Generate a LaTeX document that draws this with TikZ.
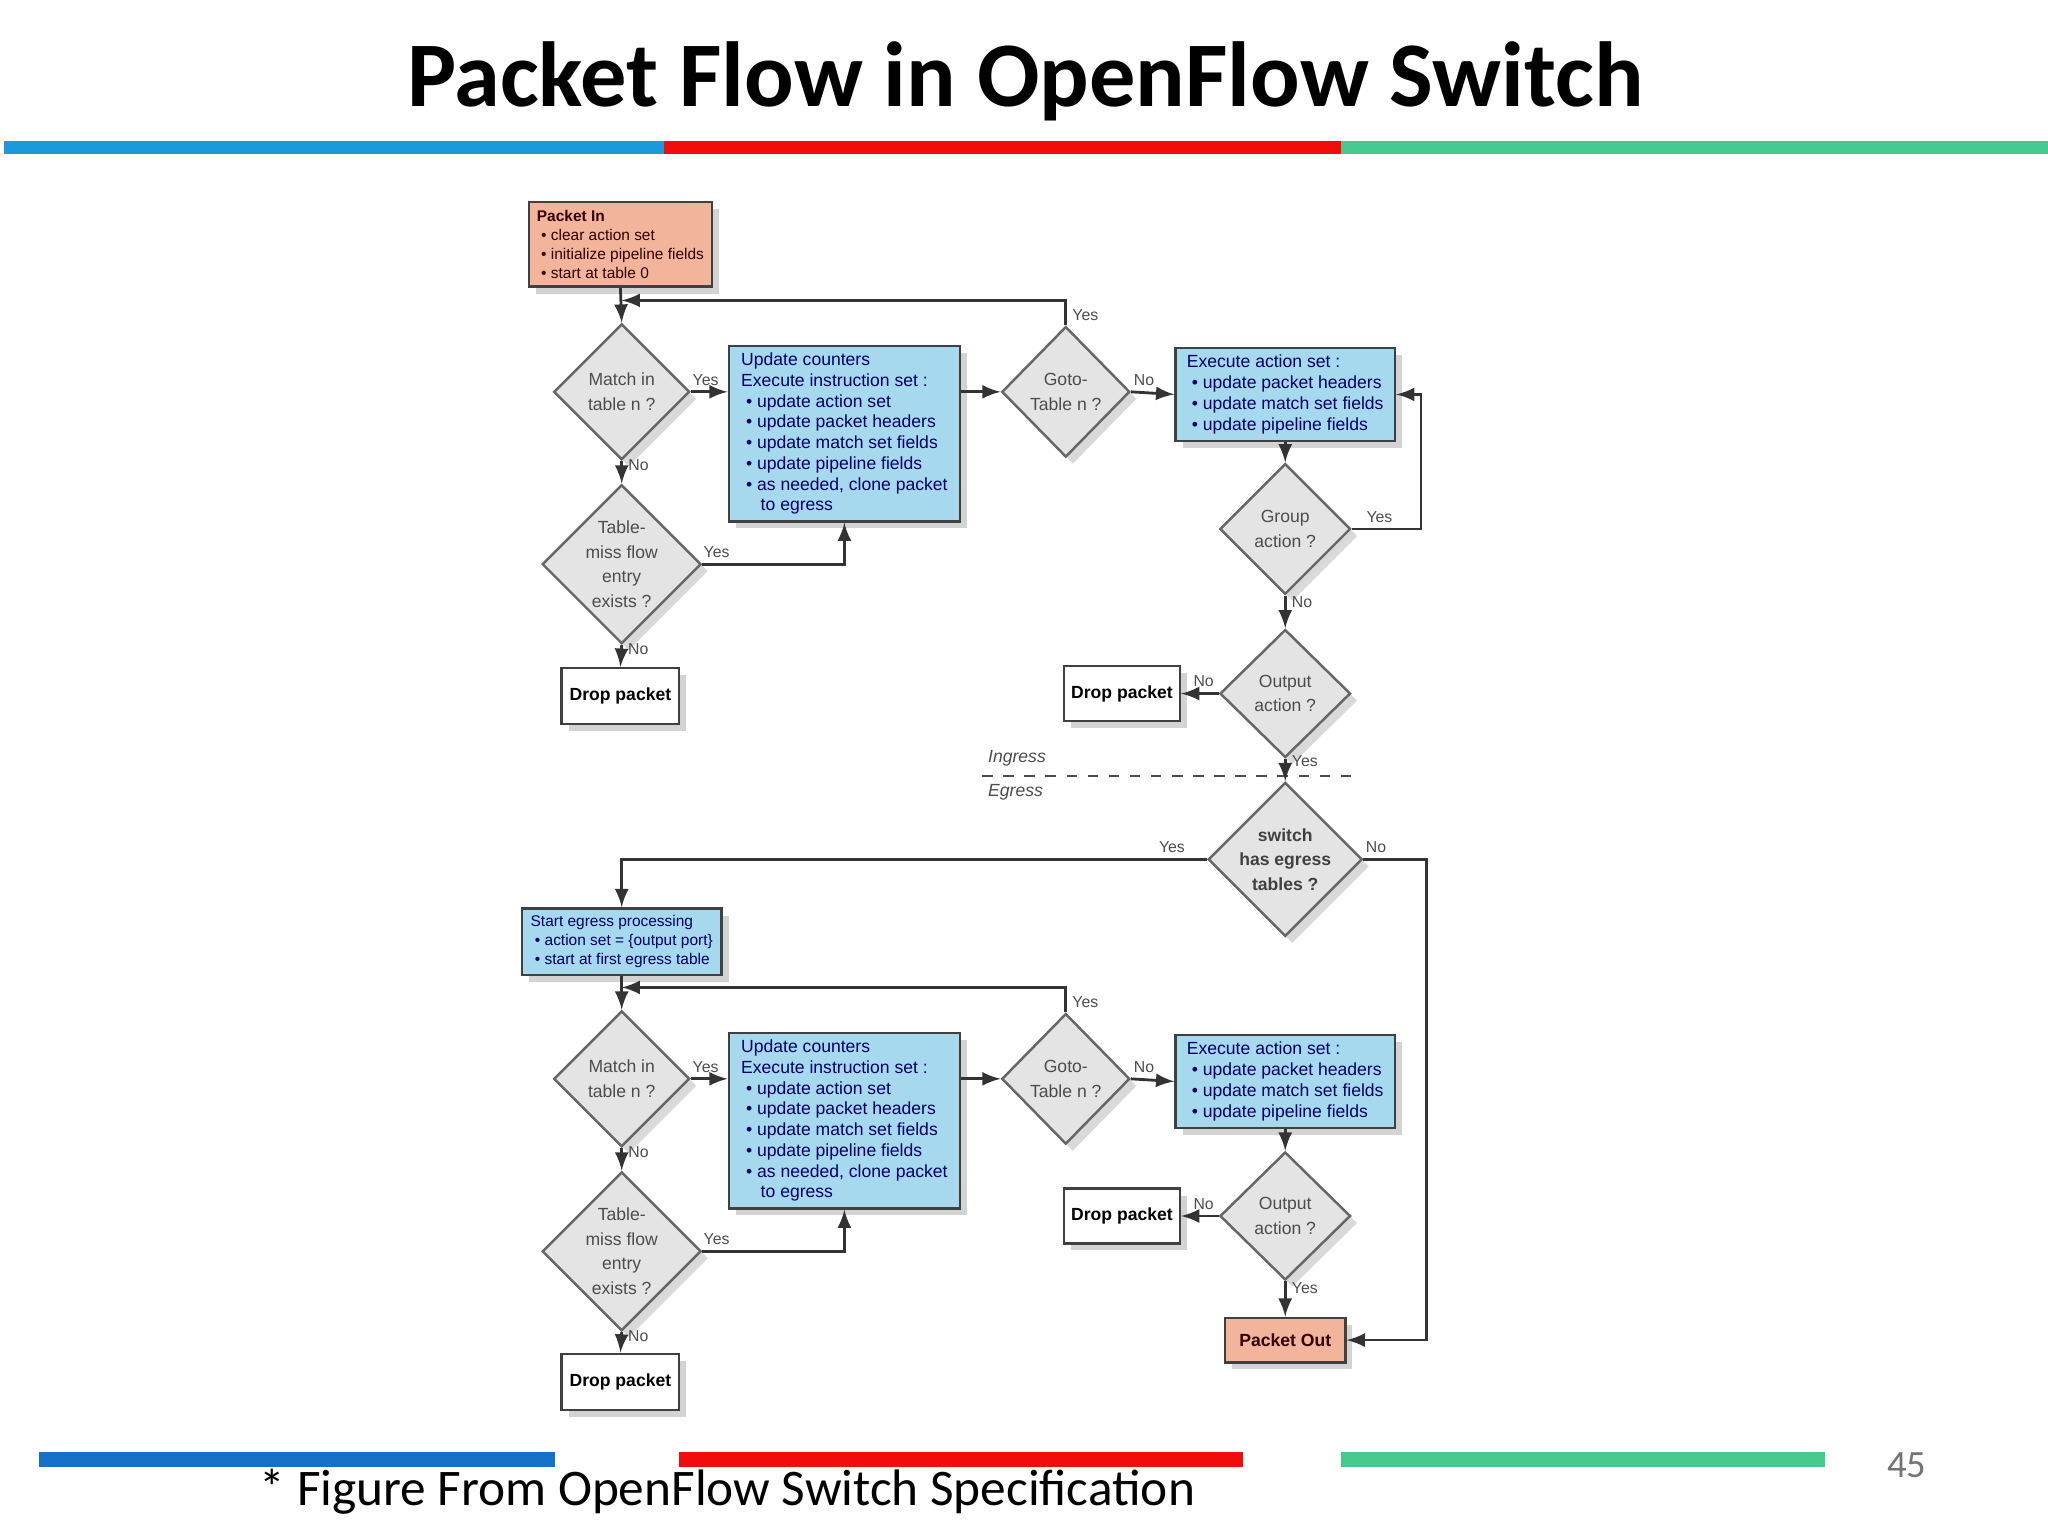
\documentclass[tikz,border=0pt]{standalone}
\usepackage{fontspec}
\setmainfont{Liberation Sans}
\newfontfamily\titlefont{Carlito}
\usetikzlibrary{shapes.geometric,positioning,shadows}
\definecolor{pktorange}{HTML}{F2B49B}
\definecolor{procblue}{HTML}{A6D8EE}
\definecolor{decgray}{HTML}{E4E4E4}
\definecolor{barblue}{HTML}{1A9ADB}
\definecolor{barred}{HTML}{F20D0D}
\definecolor{bargreen}{HTML}{45C98F}
\definecolor{barblue2}{HTML}{1570C8}
\def\px{0.01306cm}
\begin{document}
\begin{tikzpicture}[x=0.01306cm,y=-0.01306cm]
\tikzset{
  box/.style={draw=black!75,line width=0.7pt,align=left,inner sep=2pt,
    font=\fontsize{5}{5.9}\selectfont,
    drop shadow={opacity=0.35,shadow xshift=2pt,shadow yshift=-2pt}},
  smallbox/.style={box,font=\fontsize{4.4}{5.4}\selectfont},
  dec/.style={draw=black!60,line width=0.7pt,diamond,fill=decgray,aspect=1,inner sep=0pt,
    align=center,font=\fontsize{5}{7}\selectfont\color{black!70},
    drop shadow={opacity=0.3,shadow xshift=2pt,shadow yshift=-2pt}},
  drop/.style={box,fill=white,font=\fontsize{5}{6}\selectfont\bfseries,align=center},
  arr/.style={-latex,line width=0.8pt,black!80},
  lbl/.style={font=\fontsize{4.5}{5}\selectfont,text=black!70,inner sep=1.5pt}
}
\useasboundingbox (0,0) rectangle (1568,1176);

% title and bars
\node (title) at (785,62) {\titlefont\fontsize{26.3}{30}\selectfont\bfseries Packet Flow in OpenFlow Switch};
\fill[barblue] (3,108) rectangle (508,118);
\fill[barred] (508,108) rectangle (1027,118);
\fill[bargreen] (1027,108) rectangle (1568,118);
\fill[barblue2] (30,1112) rectangle (425,1123);
\fill[barred] (520,1112) rectangle (952,1123);
\fill[bargreen] (1027,1112) rectangle (1397,1123);
\node (foot) at (557,1142) {\titlefont\fontsize{14.6}{17}\selectfont * Figure From OpenFlow Switch Specification};
\node (page) at (1460,1122) {\titlefont\fontsize{11}{12}\selectfont\color{black!55}45};

% ingress pipeline
\node (PacketIn) [smallbox,fill=pktorange,text=black!80!red,minimum width=140*\px,minimum height=65*\px] at (475,187)
  {\textbf{Packet In}\\ \ \textbullet~clear action set\\ \ \textbullet~initialize pipeline fields\\ \ \textbullet~start at table 0};
\coordinate (J1) at (476,230);
\node (Match1) [dec,minimum width=104*\px,minimum height=104*\px] at (476,300) {Match in\\table n ?};
\node (Miss1) [dec,minimum width=116*\px,minimum height=112*\px] at (476,432) {Table-\\miss flow\\entry\\exists ?};
\node (Drop1) [drop,minimum width=90*\px,minimum height=43*\px] at (475,533) {Drop packet};
\node (Update1) [box,fill=procblue,text=blue!40!black,minimum width=177*\px,minimum height=129*\px] at (646.5,332)
  {Update counters\\Execute instruction set :\\ \ \textbullet~update action set\\ \ \textbullet~update packet headers\\ \ \textbullet~update match set fields\\ \ \textbullet~update pipeline fields\\ \ \textbullet~as needed, clone packet\\ \ \ \ \ to egress};
\node (Goto1) [dec,minimum width=98*\px,minimum height=100*\px] at (816,300) {Goto-\\Table n ?};
\node (Exec1) [box,fill=procblue,text=blue!40!black,minimum width=168*\px,minimum height=68*\px] at (984,302)
  {Execute action set :\\ \ \textbullet~update packet headers\\ \ \textbullet~update match set fields\\ \ \textbullet~update pipeline fields};
\node (Group) [dec,minimum width=100*\px,minimum height=100*\px] at (984,405) {Group\\action ?};
\coordinate (GroupLoop) at (1088,302);
\node (Output1) [dec,minimum width=100*\px,minimum height=98*\px] at (984,531) {Output\\action ?};
\node (Drop2) [drop,minimum width=88*\px,minimum height=42*\px] at (859,531) {Drop packet};

\draw[arr] (PacketIn.south) -- (Match1.north);
\draw[arr] (Match1.east) -- node[lbl,above,pos=0.4]{Yes} (Match1.east -| Update1.west);
\draw[arr] (Match1.south) -- node[lbl,right,pos=0.2]{No} (Miss1.north);
\draw[arr] (Miss1.east) -| node[lbl,above,pos=0.05]{Yes} (Update1.south);
\draw[arr] (Miss1.south) -- node[lbl,right,pos=0.2]{No} (Drop1.north);
\draw[arr] (Update1.east |- Goto1) -- (Goto1.west);
\draw[arr] (Goto1.north) |- node[lbl,right,pos=0.2]{Yes} (J1);
\draw[arr] (Goto1.east) -- node[lbl,above,pos=0.3]{No} (Exec1.west);
\draw[arr] (Exec1.south) -- (Group.north);
\draw[arr] (Group.east) -| node[lbl,above,pos=0.2]{Yes} (GroupLoop) -- (Exec1.east);
\draw[arr] (Group.south) -- node[lbl,right,pos=0.2]{No} (Output1.north);
\draw[arr] (Output1.west) -- node[lbl,above,pos=0.4]{No} (Drop2.east);

% ingress / egress border
\coordinate (BorderL) at (752,594);
\coordinate (BorderR) at (1035,594);
\draw[dashed,black!70,line width=0.6pt] (BorderL) -- (BorderR);
\node (Ingress) [lbl,font=\fontsize{5}{6}\selectfont\itshape,anchor=south west] at (752,591) {Ingress};
\node (Egress) [lbl,font=\fontsize{5}{6}\selectfont\itshape,anchor=north west] at (752,596) {Egress};

% egress pipeline
\node (Switch) [dec,minimum width=100*\px,minimum height=100*\px,font=\fontsize{5}{7}\selectfont\bfseries\color{black!75}] at (984,658) {switch\\has egress\\tables ?};
\coordinate (SwLoop) at (1092,1026);
\node (StartEg) [smallbox,fill=procblue,text=blue!40!black,minimum width=153*\px,minimum height=49*\px] at (476,721)
  {Start egress processing\\ \ \textbullet~action set = \{output port\}\\ \ \textbullet~start at first egress table};
\coordinate (J2) at (476,756);
\node (Match2) [dec,minimum width=104*\px,minimum height=104*\px] at (476,826) {Match in\\table n ?};
\node (Miss2) [dec,minimum width=116*\px,minimum height=112*\px] at (476,958) {Table-\\miss flow\\entry\\exists ?};
\node (Drop4) [drop,minimum width=90*\px,minimum height=43*\px] at (475,1058) {Drop packet};
\node (Update2) [box,fill=procblue,text=blue!40!black,minimum width=177*\px,minimum height=129*\px] at (646.5,858)
  {Update counters\\Execute instruction set :\\ \ \textbullet~update action set\\ \ \textbullet~update packet headers\\ \ \textbullet~update match set fields\\ \ \textbullet~update pipeline fields\\ \ \textbullet~as needed, clone packet\\ \ \ \ \ to egress};
\node (Goto2) [dec,minimum width=98*\px,minimum height=100*\px] at (816,826) {Goto-\\Table n ?};
\node (Exec2) [box,fill=procblue,text=blue!40!black,minimum width=168*\px,minimum height=68*\px] at (984,828)
  {Execute action set :\\ \ \textbullet~update packet headers\\ \ \textbullet~update match set fields\\ \ \textbullet~update pipeline fields};
\node (Output2) [dec,minimum width=100*\px,minimum height=98*\px] at (984,931) {Output\\action ?};
\node (Drop3) [drop,minimum width=88*\px,minimum height=42*\px] at (859,931) {Drop packet};
\node (PacketOut) [drop,fill=pktorange,text=black!80!red,minimum width=92*\px,minimum height=34*\px] at (984,1026) {Packet Out};

\draw[arr] (Output1.south) -- node[lbl,right,pos=0.1]{Yes} (Switch.north);
\draw[arr] (Switch.west) -| node[lbl,above,pos=0.03]{Yes} (StartEg.north);
\draw[arr] (Switch.east) -| node[lbl,above,pos=0.1]{No} (SwLoop) -- (PacketOut.east);
\draw[arr] (StartEg.south) -- (Match2.north);
\draw[arr] (Match2.east) -- node[lbl,above,pos=0.4]{Yes} (Match2.east -| Update2.west);
\draw[arr] (Match2.south) -- node[lbl,right,pos=0.2]{No} (Miss2.north);
\draw[arr] (Miss2.east) -| node[lbl,above,pos=0.05]{Yes} (Update2.south);
\draw[arr] (Miss2.south) -- node[lbl,right,pos=0.2]{No} (Drop4.north);
\draw[arr] (Update2.east |- Goto2) -- (Goto2.west);
\draw[arr] (Goto2.north) |- node[lbl,right,pos=0.2]{Yes} (J2);
\draw[arr] (Goto2.east) -- node[lbl,above,pos=0.3]{No} (Exec2.west);
\draw[arr] (Exec2.south) -- (Output2.north);
\draw[arr] (Output2.west) -- node[lbl,above,pos=0.4]{No} (Drop3.east);
\draw[arr] (Output2.south) -- node[lbl,right,pos=0.2]{Yes} (PacketOut.north);
\end{tikzpicture}
\end{document}
